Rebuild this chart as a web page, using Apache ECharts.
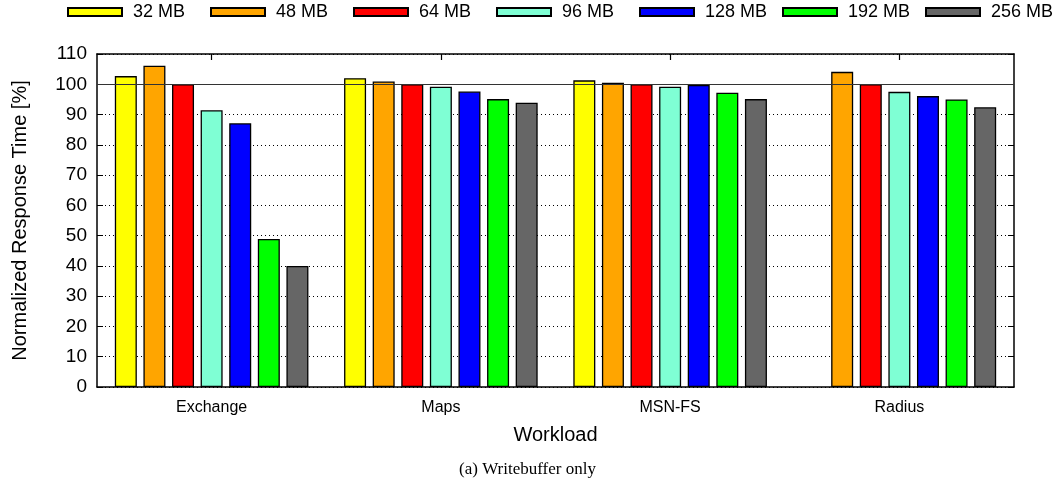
<!DOCTYPE html>
<html lang="en">
<head>
    <meta charset="UTF-8">
    <script type="text/javascript" src="https://cdn.jsdelivr.net/npm/echarts@6/dist/echarts.min.js"></script>
    <style>
        body { margin: 0; background: #fff; }
    </style>
</head>
<body>
    <div id="WriteBufferChart" style="width: 1055px;height: 486px;"></div>
</body>

<script>
    //Workload 分类
    var workloads = ["Exchange", "Maps", "MSN-FS", "Radius"];
    //Buffer 大小
    var bufferSizes = ["32 MB", "48 MB", "64 MB", "96 MB", "128 MB", "192 MB", "256 MB"];
    var bufferColors = ["#ffff00", "#ffa500", "#ff0000", "#7fffd4", "#0000ff", "#00ff00", "#666666"];
    //各 Buffer 的归一化响应时间 (Exchange, Maps, MSN-FS, Radius)
    var mb32 = [102.7, 102.0, 101.3, null];
    var mb48 = [106.1, 100.9, 100.5, 104.1];
    var mb64 = [100.0, 100.0, 100.0, 100.0];
    var mb96 = [91.4, 99.2, 99.2, 97.5];
    var mb128 = [87.1, 97.6, 99.8, 96.1];
    var mb192 = [48.9, 95.1, 97.2, 95.0];
    var mb256 = [40.0, 93.9, 95.1, 92.4];
    var seriesValues = [mb32, mb48, mb64, mb96, mb128, mb192, mb256];

    var chart = echarts.init(document.getElementById("WriteBufferChart"));

    //构建 series
    var seriesList = [];
    for (var i = 0; i < bufferSizes.length; i++) {
        var s = {
            name: bufferSizes[i],
            type: "bar",
            data: seriesValues[i],
            barWidth: 22,
            barGap: "30%",
            itemStyle: { color: bufferColors[i], borderColor: "#000", borderWidth: 1.3 }
        };
        if (i === 0) {
            s.markLine = {
                silent: true,
                symbol: "none",
                label: { show: false },
                lineStyle: { color: "#333", type: "solid", width: 1.2 },
                data: [{ yAxis: 100 }]
            };
        }
        seriesList.push(s);
    }

    //图例: 每项单独放置, 等间距
    var legendList = [];
    for (var j = 0; j < bufferSizes.length; j++) {
        legendList.push({
            data: [bufferSizes[j]],
            left: 67 + 143 * j,
            top: 3,
            padding: 0,
            icon: "rect",
            itemWidth: 54,
            itemHeight: 8,
            textStyle: { fontSize: 18, color: "#000", padding: [0, 0, 0, 6] }
        });
    }

    var option = {
        animation: false,
        textStyle: { fontFamily: "Liberation Sans, Arial, sans-serif" },
        title: {
            text: "(a) Writebuffer only",
            left: "center",
            top: 456,
            textStyle: { fontFamily: "Liberation Serif, serif", fontWeight: "normal", fontSize: 17, color: "#000" }
        },
        legend: legendList,
        grid: { left: 97, right: 41, top: 54, bottom: 99 },
        xAxis: [
            {
                type: "category",
                data: workloads,
                name: "Workload",
                nameLocation: "middle",
                nameGap: 38,
                nameTextStyle: { fontSize: 20, color: "#000" },
                axisLine: { lineStyle: { color: "#000", width: 1.5 } },
                axisTick: { show: false },
                axisLabel: { fontSize: 16, color: "#000", margin: 13 }
            },
            {
                type: "category",
                data: workloads,
                position: "top",
                axisLine: { onZero: false, lineStyle: { color: "#000", width: 1.5 } },
                axisTick: { show: true, inside: true, alignWithLabel: true, length: 6, lineStyle: { color: "#000", width: 1.2 } },
                axisLabel: { show: false }
            }
        ],
        yAxis: [
            {
                type: "value",
                min: 0,
                max: 110,
                interval: 10,
                name: "Normalized Response Time [%]",
                nameLocation: "middle",
                nameGap: 67,
                nameTextStyle: { fontSize: 20, color: "#000" },
                axisLine: { show: true, lineStyle: { color: "#000", width: 1.5 } },
                axisTick: { show: true, inside: true, length: 6, lineStyle: { color: "#000" } },
                axisLabel: { fontSize: 19, color: "#000", margin: 10 },
                splitLine: { show: true, lineStyle: { color: "#000", type: [1, 3], width: 1 } }
            },
            {
                type: "value",
                min: 0,
                max: 110,
                interval: 10,
                position: "right",
                axisLine: { show: true, lineStyle: { color: "#000", width: 1.5 } },
                axisTick: { show: true, inside: true, length: 6, lineStyle: { color: "#000" } },
                axisLabel: { show: false },
                splitLine: { show: false }
            }
        ],
        series: seriesList
    };
    chart.setOption(option);
</script>
</html>
